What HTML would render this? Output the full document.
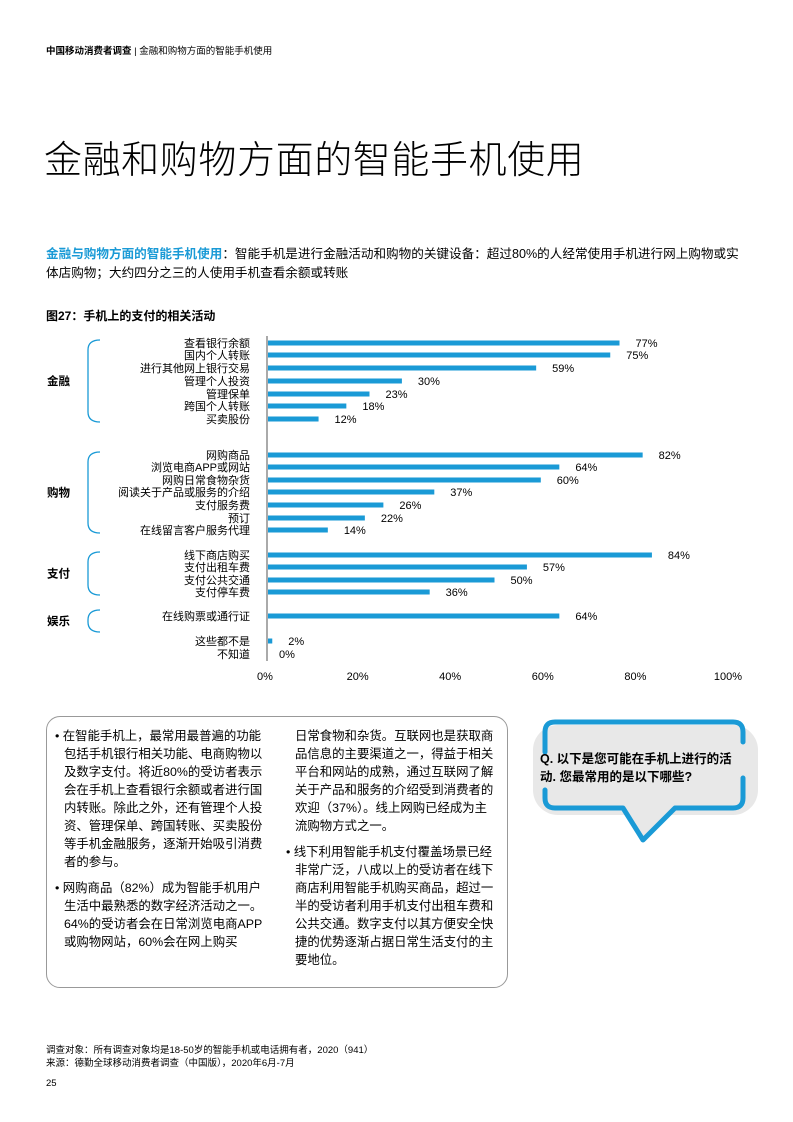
<!DOCTYPE html>
<html><head><meta charset="utf-8"><style>
body{margin:0;width:793px;height:1122px;background:#fff;font-family:"Liberation Sans","Noto Sans CJK SC",sans-serif;position:relative;overflow:hidden;color:#000}
.a{position:absolute;white-space:nowrap}
.col{font-size:12.4px;line-height:18px;white-space:normal;width:200px}
.col div{text-indent:-9px}
</style></head><body>
<div class="a" style="left:46px;top:43px;font-size:9.5px;"><b>中国移动消费者调查</b> | 金融和购物方面的智能手机使用</div>
<div class="a" style="left:44px;top:129px;font-size:38px;font-weight:300;letter-spacing:0.6px">金融和购物方面的智能手机使用</div>
<div class="a" style="left:46px;top:245px;font-size:12.6px;line-height:19px;white-space:normal;width:702px"><b style="color:#1a9ad6">金融与购物方面的智能手机使用</b>：智能手机是进行金融活动和购物的关键设备：超过80%的人经常使用手机进行网上购物或实体店购物；大约四分之三的人使用手机查看余额或转账</div>
<div class="a" style="left:46px;top:307px;font-size:12px;font-weight:bold">图27：手机上的支付的相关活动</div>
<svg id="chart" class="a" style="left:0;top:0" width="793" height="700"></svg>
<div class="a" style="left:46px;top:716px;width:460px;height:270px;border:1.5px solid #999;border-radius:14px"></div>
<div class="a col" style="left:64px;top:727px">
<div>• 在智能手机上，最常用最普遍的功能包括手机银行相关功能、电商购物以及数字支付。将近80%的受访者表示会在手机上查看银行余额或者进行国内转账。除此之外，还有管理个人投资、管理保单、跨国转账、买卖股份等手机金融服务，逐渐开始吸引消费者的参与。</div>
<div style="margin-top:8px">• 网购商品（82%）成为智能手机用户生活中最熟悉的数字经济活动之一。64%的受访者会在日常浏览电商APP或购物网站，60%会在网上购买</div></div>
<div class="a col" style="left:295px;top:727px">
<div style="text-indent:0">日常食物和杂货。互联网也是获取商品信息的主要渠道之一，得益于相关平台和网站的成熟，通过互联网了解关于产品和服务的介绍受到消费者的欢迎（37%）。线上网购已经成为主流购物方式之一。</div>
<div style="margin-top:8px">• 线下利用智能手机支付覆盖场景已经非常广泛，八成以上的受访者在线下商店利用智能手机购买商品，超过一半的受访者利用手机支付出租车费和公共交通。数字支付以其方便安全快捷的优势逐渐占据日常生活支付的主要地位。</div></div>
<svg class="a" style="left:525px;top:710px" width="240" height="140">
<rect x="8" y="15" width="225" height="90" rx="25" fill="#e8e8e8"/>
<path d="M20 42 V22 Q20 12 30 12 H208 Q218 12 218 22 V32" fill="none" stroke="#1a9ad6" stroke-width="5" stroke-linecap="round"/>
<path d="M218 68 V88 Q218 98 208 98 H150 L118 130 L98 98 H30 Q20 98 20 88 V80" fill="#e8e8e8" stroke="#1a9ad6" stroke-width="5" stroke-linecap="round" stroke-linejoin="round"/>
<text x="15" y="53" font-size="12.5" font-weight="bold" font-family="Liberation Sans, Noto Sans CJK SC, sans-serif">Q. 以下是您可能在手机上进行的活</text>
<text x="15" y="71" font-size="12.5" font-weight="bold" font-family="Liberation Sans, Noto Sans CJK SC, sans-serif">动. 您最常用的是以下哪些?</text>
</svg>
<div class="a" style="left:46px;top:1044px;font-size:9.5px;line-height:13px">调查对象：所有调查对象均是18-50岁的智能手机或电话拥有者，2020（941）<br>来源：德勤全球移动消费者调查（中国版），2020年6月-7月</div>
<div class="a" style="left:46px;top:1078px;font-size:9.5px">25</div>
<script>
const categories=["查看银行余额","国内个人转账","进行其他网上银行交易","管理个人投资","管理保单","跨国个人转账","买卖股份","网购商品","浏览电商APP或网站","网购日常食物杂货","阅读关于产品或服务的介绍","支付服务费","预订","在线留言客户服务代理","线下商店购买","支付出租车费","支付公共交通","支付停车费","在线购票或通行证","这些都不是","不知道"];
const values=[77,75,59,30,23,18,12,82,64,60,37,26,22,14,84,57,50,36,64,2,0];
const rowY=[343,355,368,381,394,406,419,455,467,480,492,505,518,530,555,567,580,592,616,641,654];
const ticks=[0,20,40,60,80,100];
const groups=[["金融",340,422],["购物",452,533],["支付",552,595],["娱乐",610,632]];
const svg=document.getElementById('chart');const NS='http://www.w3.org/2000/svg';
const x=v=>267+v*4.63;
function mk(t,a){const e=document.createElementNS(NS,t);for(const k in a)e.setAttribute(k,a[k]);svg.appendChild(e);return e;}
const ax=mk('line',{x1:267,x2:267,y1:336,y2:661,stroke:'#555','stroke-width':1});


values.forEach((v,i)=>{const y=rowY[i];
const b=mk('rect',{x:268,y:y-2.5,width:Math.max(x(v)-272,0),height:5,fill:'#1a9ad6'});


const l=mk('text',{x:250,y:y+4,'text-anchor':'end','font-size':11});l.textContent=categories[i];


const t=mk('text',{x:x(v)+12,y:y+4,'text-anchor':'start','font-size':11});t.textContent=v+'%';

});
ticks.forEach(v=>{const t=mk('text',{x:x(v)-2,y:680,'text-anchor':'middle','font-size':11});t.textContent=v+'%';

});
groups.forEach(g=>{const [n,a,b]=g;
const p=mk('path',{d:`M100 ${a} Q88 ${a} 88 ${a+10} V${b-10} Q88 ${b} 100 ${b}`,fill:'none',stroke:'#1a9ad6','stroke-width':1.3});


const t=mk('text',{x:47,y:(a+b)/2+4,'font-size':11.5,'font-weight':'bold'});t.textContent=n;

});
</script>
</body></html>
